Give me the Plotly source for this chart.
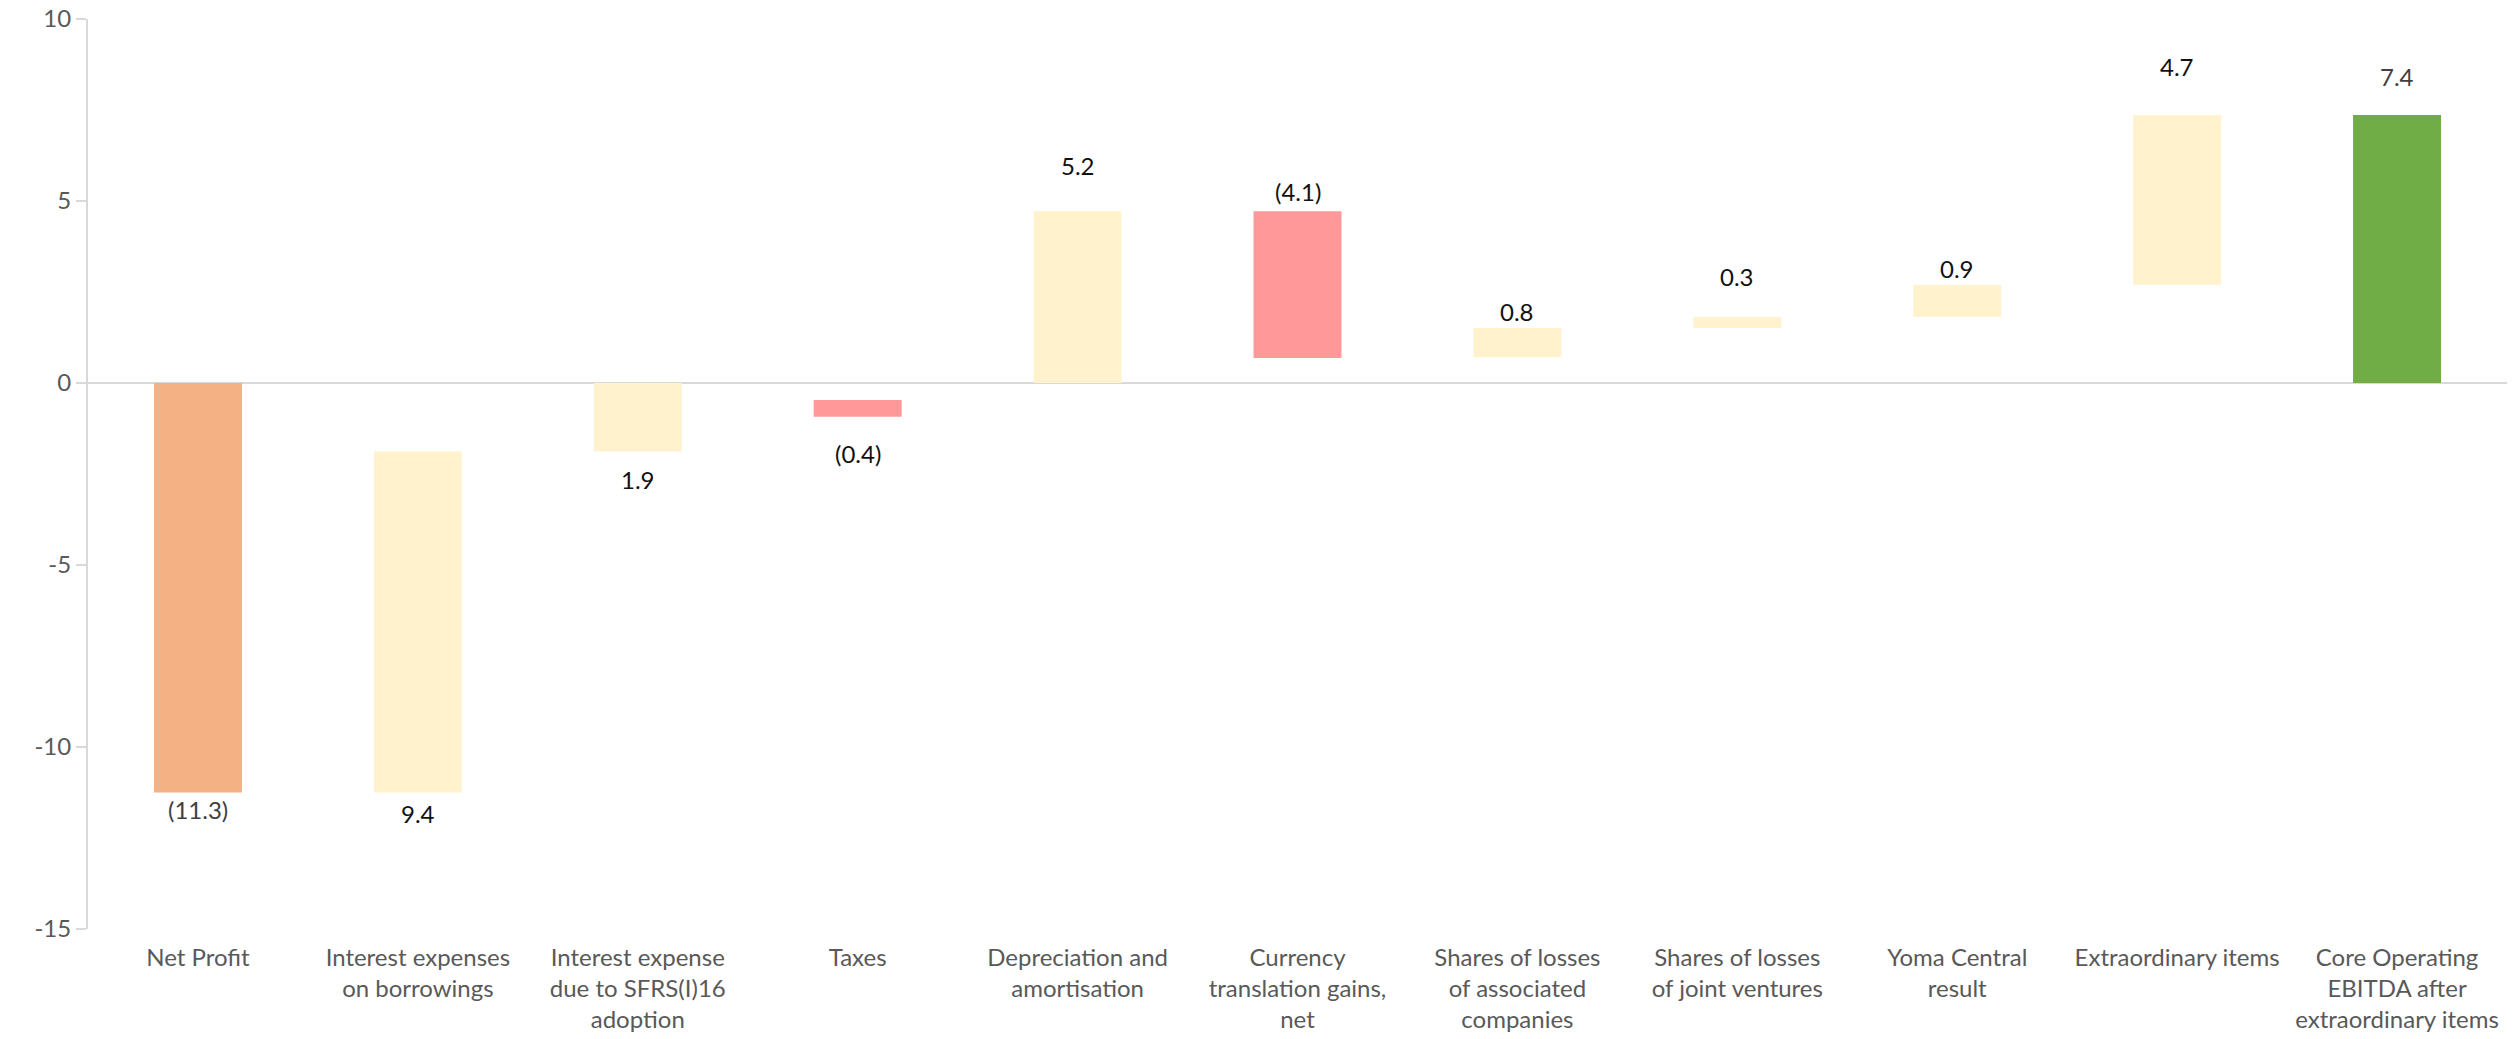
import plotly.graph_objects as go

# ---- data ----
categories = [
    "Net Profit",
    "Interest expenses<br>on borrowings",
    "Interest expense<br>due to SFRS(I)16<br>adoption",
    "Taxes",
    "Depreciation and<br>amortisation",
    "Currency<br>translation gains,<br>net",
    "Shares of losses<br>of associated<br>companies",
    "Shares of losses<br>of joint ventures",
    "Yoma Central<br>result",
    "Extraordinary items",
    "Core Operating<br>EBITDA after<br>extraordinary items",
]
bar_low = [-11.25, -11.25, -1.88, -0.93, 0.0, 0.69, 0.71, 1.51, 1.81, 2.70, 0.0]
bar_high = [0.0, -1.88, 0.0, -0.47, 4.72, 4.72, 1.51, 1.81, 2.69, 7.36, 7.36]
value_labels = ["(11.3)", "9.4", "1.9", "(0.4)", "5.2", "(4.1)", "0.8", "0.3", "0.9", "4.7", "7.4"]
y_tick_vals = [-15, -10, -5, 0, 5, 10]
y_tick_text = ["-15", "-10", "-5", "0", "5", "10"]

# ---- styling ----
C_START = "#F4B183"
C_UP = "#FFF2CC"
C_DOWN = "#FF9999"
C_TOTAL = "#70AD47"
bar_colors = [C_START, C_UP, C_UP, C_DOWN, C_UP, C_DOWN, C_UP, C_UP, C_UP, C_UP, C_TOTAL]
label_side = ["below"] * 4 + ["above"] * 7
label_gap = [0, 4, 12, 20, 29, 3, 0, 24, 0, 32, 22]  # pixel gap between bar end and label
label_colors = ["#404040"] + ["#111111"] * 9 + ["#404040"]

FONT = "Lato, Open Sans, sans-serif"

heights = [h - l for h, l in zip(bar_high, bar_low)]

fig = go.Figure()
fig.add_trace(go.Bar(
    x=categories,
    y=heights,
    base=bar_low,
    marker=dict(color=bar_colors, line=dict(width=0)),
    hoverinfo="skip",
    showlegend=False,
))

annotations = []
for cat, lo, hi, lab, side, gap, col in zip(categories, bar_low, bar_high, value_labels,
                                            label_side, label_gap, label_colors):
    if side == "below":
        annotations.append(dict(x=cat, y=lo, text=lab, showarrow=False, yanchor="top",
                                yshift=-gap, font=dict(family=FONT, size=24, color=col)))
    else:
        annotations.append(dict(x=cat, y=hi, text=lab, showarrow=False, yanchor="bottom",
                                yshift=gap, font=dict(family=FONT, size=24, color=col)))

fig.update_layout(
    width=2519, height=1039,
    margin=dict(l=88, r=12, t=19, b=110),
    paper_bgcolor="white", plot_bgcolor="white",
    bargap=0.6,
    annotations=annotations,
    font=dict(family=FONT, size=24, color="#595959"),
)
fig.update_xaxes(
    showgrid=False, showline=False, ticks="", zeroline=False,
    tickangle=0, automargin=False,
    tickfont=dict(family=FONT, size=24, color="#595959"),
    ticklabelstandoff=12,
)
fig.update_yaxes(
    range=[-15, 10], tickvals=y_tick_vals, ticktext=y_tick_text, showgrid=False,
    automargin=False, ticklabeloverflow="allow",
    showline=True, linecolor="#D9D9D9", linewidth=2,
    ticks="outside", ticklen=10, tickcolor="#D9D9D9", tickwidth=2,
    zeroline=True, zerolinecolor="#D9D9D9", zerolinewidth=2,
    tickfont=dict(family=FONT, size=24, color="#595959"),
)

fig.write_html(
    "out.html",
    config={"displayModeBar": False},
    post_script="document.body.style.margin='0';document.body.style.overflow='hidden';",
)
